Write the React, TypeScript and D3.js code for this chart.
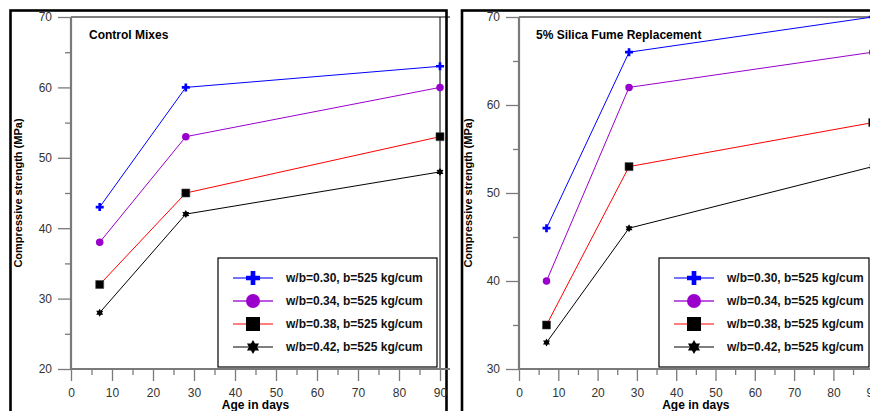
import { useEffect, useRef } from 'react'
import * as d3 from 'd3'

// ── Data ─────────────────────────────────────────────────────────────────────
const DAYS = [7, 28, 90]
const SERIES_LABELS = [
  'w/b=0.30, b=525 kg/cum',
  'w/b=0.34, b=525 kg/cum',
  'w/b=0.38, b=525 kg/cum',
  'w/b=0.42, b=525 kg/cum',
]
const CONTROL_VALUES = [
  [43, 60, 63],
  [38, 53, 60],
  [32, 45, 53],
  [28, 42, 48],
]
const SILICA_VALUES = [
  [46, 66, 70],
  [40, 62, 66],
  [35, 53, 58],
  [33, 46, 53],
]
const X_TICKS = [0, 10, 20, 30, 40, 50, 60, 70, 80, 90]
const CONTROL_Y_TICKS = [20, 30, 40, 50, 60, 70]
const SILICA_Y_TICKS = [30, 40, 50, 60, 70]

// ── Styles ───────────────────────────────────────────────────────────────────
const FONT = 'Liberation Sans, Arial, Helvetica, sans-serif'
const AXIS_GRAY = '#7a7a7a'

const SERIES_STYLE = [
  { line: '#0000ff', fill: '#0000ff', marker: 'plus', legendOpacity: 0.55 },
  { line: '#9900cc', fill: '#9900cc', marker: 'circle', legendOpacity: 0.65 },
  { line: '#ff0000', fill: '#000000', marker: 'square', legendOpacity: 1 },
  { line: '#000000', fill: '#000000', marker: 'star', legendOpacity: 1 },
]

const PANELS = [
  {
    title: 'Control Mixes',
    values: CONTROL_VALUES,
    yTicks: CONTROL_Y_TICKS,
    frame: { x: 10.5, y: 10.5, w: 436, h: 500 },
    plot: { left: 71, right: 440, top: 17, bottom: 369 },
    legend: { x: 218, y: 258, w: 219, h: 109 },
    titleX: 89,
    yTitleX: 18,
  },
  {
    title: '5% Silica Fume Replacement',
    values: SILICA_VALUES,
    yTicks: SILICA_Y_TICKS,
    frame: { x: 462, y: 10.5, w: 500, h: 500 },
    plot: { left: 519, right: 872.7, top: 17, bottom: 369 },
    legend: { x: 659, y: 258, w: 210, h: 109 },
    titleX: 536,
    yTitleX: 468,
  },
]

// marker path, w = visible width in px
function markerPath(type: string, w: number): string {
  if (type === 'plus') return d3.symbol(d3.symbolCross, 5 * (w / 3) ** 2)() as string
  if (type === 'circle') return d3.symbol(d3.symbolCircle, Math.PI * (w / 2) ** 2)() as string
  if (type === 'square') return d3.symbol(d3.symbolSquare, w * w)() as string
  // six-pointed star
  const R = w / 2
  const r = R * 0.58
  const pts: [number, number][] = d3.range(12).map(i => {
    const a = -Math.PI / 2 + (i * Math.PI) / 6
    const rad = i % 2 === 0 ? R : r
    return [Math.cos(a) * rad, Math.sin(a) * rad]
  })
  return d3.line().curve(d3.curveLinearClosed)(pts) as string
}

function drawPanel(root: d3.Selection<SVGGElement, unknown, null, undefined>, p: typeof PANELS[number]) {
  const g = root.append('g')

  // outer frame
  g.append('rect')
    .attr('x', p.frame.x).attr('y', p.frame.y)
    .attr('width', p.frame.w).attr('height', p.frame.h)
    .attr('fill', 'none').attr('stroke', '#000').attr('stroke-width', 2.6)

  const x = d3.scaleLinear().domain([0, 90]).range([p.plot.left, p.plot.right])
  const yDom = d3.extent(p.yTicks) as [number, number]
  const y = d3.scaleLinear().domain(yDom).range([p.plot.bottom, p.plot.top])

  // top + right border of plot area
  g.append('line')
    .attr('x1', p.plot.left).attr('x2', p.plot.right + 10)
    .attr('y1', p.plot.top).attr('y2', p.plot.top)
    .attr('stroke', '#000').attr('stroke-width', 1.2)
  g.append('line')
    .attr('x1', p.plot.right).attr('x2', p.plot.right)
    .attr('y1', p.plot.top).attr('y2', p.plot.bottom)
    .attr('stroke', '#000').attr('stroke-width', 1)

  const styleAxis = (ax: d3.Selection<SVGGElement, unknown, null, undefined>) => {
    ax.select('.domain').remove()
    ax.selectAll('.tick line').attr('stroke', AXIS_GRAY).attr('stroke-width', 1.3)
    ax.selectAll('text').attr('fill', '#333').attr('font-size', '12px').attr('font-family', FONT)
  }

  const xMinor = d3.pairs(X_TICKS).map(([a, b]) => (a + b) / 2)
  const yMinor = d3.pairs(p.yTicks).map(([a, b]) => (a + b) / 2)

  // X axis
  g.append('g').attr('transform', `translate(0,${p.plot.bottom})`)
    .call(d3.axisBottom(x).tickValues(X_TICKS).tickSize(12).tickPadding(7).tickFormat(d3.format('d')))
    .call(styleAxis)
  g.append('g').attr('transform', `translate(0,${p.plot.bottom})`)
    .call(d3.axisBottom(x).tickValues(xMinor).tickSize(6).tickFormat(() => ''))
    .call(styleAxis)

  // Y axis
  g.append('g').attr('transform', `translate(${p.plot.left},0)`)
    .call(d3.axisLeft(y).tickValues(p.yTicks).tickSize(13).tickPadding(6).tickFormat(d3.format('d')))
    .call(styleAxis)
  g.append('g').attr('transform', `translate(${p.plot.left},0)`)
    .call(d3.axisLeft(y).tickValues(yMinor).tickSize(6).tickFormat(() => ''))
    .call(styleAxis)

  // axis lines (gray, heavier)
  g.append('line')
    .attr('x1', p.plot.left).attr('x2', p.plot.left)
    .attr('y1', p.plot.top).attr('y2', p.plot.bottom + 1)
    .attr('stroke', AXIS_GRAY).attr('stroke-width', 2.2)
  g.append('line')
    .attr('x1', p.plot.left - 1).attr('x2', p.plot.right + 10)
    .attr('y1', p.plot.bottom).attr('y2', p.plot.bottom)
    .attr('stroke', AXIS_GRAY).attr('stroke-width', 2.2)

  // axis titles
  g.append('text')
    .attr('x', (p.plot.left + p.plot.right) / 2).attr('y', 409)
    .attr('text-anchor', 'middle')
    .attr('font-family', FONT).attr('font-size', '12px').attr('font-weight', 'bold')
    .text('Age in days')
  const cy = (p.plot.top + p.plot.bottom) / 2
  g.append('text')
    .attr('transform', `translate(${p.yTitleX},${cy}) rotate(-90)`)
    .attr('text-anchor', 'middle').attr('dy', '0.35em')
    .attr('font-family', FONT).attr('font-size', '11px').attr('font-weight', 'bold')
    .text('Compressive strength (MPa)')

  // panel title
  g.append('text')
    .attr('x', p.titleX).attr('y', 39)
    .attr('font-family', FONT).attr('font-size', '12px').attr('font-weight', 'bold')
    .text(p.title)

  // series
  const line = d3.line<number>().x((_, i) => x(DAYS[i])).y(d => y(d))
  p.values.forEach((vals, si) => {
    const st = SERIES_STYLE[si]
    g.append('path')
      .attr('d', line(vals))
      .attr('fill', 'none').attr('stroke', st.line).attr('stroke-width', 1)
    vals.forEach((v, i) => {
      g.append('path')
        .attr('d', markerPath(st.marker, st.marker === 'circle' ? 7.5 : 8))
        .attr('transform', `translate(${x(DAYS[i])},${y(v)})`)
        .attr('fill', st.fill)
        .attr('stroke', st.marker === 'square' ? '#444' : 'none').attr('stroke-width', 0.6)
    })
  })

  // legend
  const L = p.legend
  g.append('rect')
    .attr('x', L.x).attr('y', L.y).attr('width', L.w).attr('height', L.h)
    .attr('fill', '#fff').attr('stroke', '#000').attr('stroke-width', 1.2)
  SERIES_LABELS.forEach((label, si) => {
    const st = SERIES_STYLE[si]
    const ry = L.y + 20 + si * 23
    g.append('line')
      .attr('x1', L.x + 15).attr('x2', L.x + 55)
      .attr('y1', ry).attr('y2', ry)
      .attr('stroke', st.line).attr('stroke-opacity', st.legendOpacity)
      .attr('stroke-width', si < 2 ? 2 : 1.2)
    g.append('path')
      .attr('d', markerPath(st.marker, 14))
      .attr('transform', `translate(${L.x + 35},${ry})`)
      .attr('fill', st.fill)
    g.append('text')
      .attr('x', L.x + 68).attr('y', ry).attr('dy', '0.35em')
      .attr('font-family', FONT).attr('font-size', '12px').attr('font-weight', 'bold')
      .attr('fill', '#111')
      .text(label)
  })
}

export default function App() {
  const svgRef = useRef<SVGSVGElement>(null)

  useEffect(() => {
    if (!svgRef.current) return
    const svg = d3.select(svgRef.current)
    svg.selectAll('*').remove()
    const root = svg.append('g') as d3.Selection<SVGGElement, unknown, null, undefined>
    PANELS.forEach(p => drawPanel(root, p))
  }, [])

  return (
    <div style={{ position: 'absolute', left: 0, top: 0 }}>
      <svg ref={svgRef} width={870} height={411} style={{ display: 'block', background: '#fff' }} />
    </div>
  )
}
